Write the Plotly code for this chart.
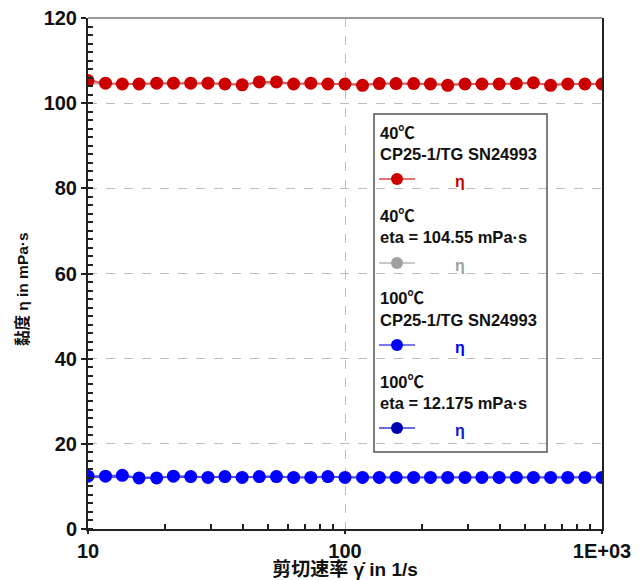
import plotly.graph_objects as go

# ---------------- data ----------------
shear_rate = [10, 11.7, 13.6, 15.8, 18.5, 21.5, 25.1, 29.3, 34.1, 39.8, 46.4, 54.1, 63.1, 73.6, 85.8,
              100, 117, 136, 158, 185, 215, 251, 293, 341, 398, 464, 541, 631, 736, 858, 1000]
eta_40 = [105.3, 104.7, 104.5, 104.5, 104.7, 104.7, 104.7, 104.7, 104.5, 104.3, 105.0, 105.0, 104.5, 104.7, 104.5,
          104.5, 104.2, 104.6, 104.6, 104.6, 104.5, 104.2, 104.5, 104.5, 104.5, 104.6, 104.8, 104.2, 104.5, 104.5, 104.5]
eta_100 = [12.4, 12.4, 12.6, 12.0, 12.0, 12.4, 12.3, 12.1, 12.3, 12.1, 12.3, 12.3, 12.1, 12.1, 12.3,
           12.1, 12.1, 12.1, 12.1, 12.1, 12.1, 12.1, 12.1, 12.1, 12.1, 12.1, 12.1, 12.1, 12.1, 12.1, 12.1]
fit_40 = 104.55
fit_100 = 12.175

x_tickvals = [10, 100, 1000]
x_ticktext = ["10", "100", "1E+03"]
x_minor = [20, 30, 40, 50, 60, 70, 80, 90, 200, 300, 400, 500, 600, 700, 800, 900]

legend_titles = [("40℃", "CP25-1/TG SN24993"), ("40℃", "eta = 104.55 mPa·s"),
                 ("100℃", "CP25-1/TG SN24993"), ("100℃", "eta = 12.175 mPa·s")]
legend_marker_colors = ["#CC0000", "#A0A0A0", "#0000FF", "#0000B0"]
legend_line_colors = ["#E87070", "#C8C8C8", "#7878FF", "#6A6AE0"]
legend_eta_colors = ["#CC0000", "#A0A0A0", "#0000FF", "#1515D0"]

FONT = "Liberation Sans, Arial, Noto Sans CJK SC, sans-serif"

fig = go.Figure()

# fitted constant lines (under data)
fig.add_trace(go.Scatter(x=shear_rate, y=[fit_40] * len(shear_rate), mode="lines",
                         line=dict(color="#B0B0B0", width=1.5), showlegend=False, hoverinfo="skip"))
fig.add_trace(go.Scatter(x=shear_rate, y=eta_40, mode="lines+markers",
                         line=dict(color="#E05555", width=2),
                         marker=dict(color="#CC0000", size=13), showlegend=False))
fig.add_trace(go.Scatter(x=shear_rate, y=[fit_100] * len(shear_rate), mode="lines",
                         line=dict(color="#5050E0", width=1.5), showlegend=False, hoverinfo="skip"))
fig.add_trace(go.Scatter(x=shear_rate, y=eta_100, mode="lines+markers",
                         line=dict(color="#4848FF", width=2),
                         marker=dict(color="#0000FF", size=13), showlegend=False))

# ---------------- custom legend (pixel-coordinate overlay axes) ----------------
title_y1 = [133, 216, 298, 382]
title_y2 = [154, 237, 320, 403]
sym_y = [179, 263, 345, 428]
for i in range(4):
    fig.add_trace(go.Scatter(x=[379, 415], y=[sym_y[i], sym_y[i]], mode="lines",
                             line=dict(color=legend_line_colors[i], width=2),
                             xaxis="x2", yaxis="y2", cliponaxis=False, showlegend=False, hoverinfo="skip"))
    fig.add_trace(go.Scatter(x=[397], y=[sym_y[i]], mode="markers",
                             marker=dict(color=legend_marker_colors[i], size=12),
                             xaxis="x2", yaxis="y2", cliponaxis=False, showlegend=False, hoverinfo="skip"))
    fig.add_annotation(x=378, y=title_y1[i], xref="x2", yref="y2", text="<b>%s</b>" % legend_titles[i][0],
                       showarrow=False, xanchor="left", yanchor="middle",
                       font=dict(family=FONT, size=16.5, color="#111"))
    fig.add_annotation(x=378, y=title_y2[i], xref="x2", yref="y2", text="<b>%s</b>" % legend_titles[i][1],
                       showarrow=False, xanchor="left", yanchor="middle",
                       font=dict(family=FONT, size=16.5, color="#111"))
    fig.add_annotation(x=460, y=sym_y[i] + 2, xref="x2", yref="y2", text="<b>η</b>",
                       showarrow=False, xanchor="center", yanchor="middle",
                       font=dict(family=FONT, size=16, color=legend_eta_colors[i]))

fig.add_shape(type="rect", xref="x2", yref="y2", x0=374, x1=547, y0=114, y1=452,
              line=dict(color="#555555", width=1.5), fillcolor="rgba(0,0,0,0)", layer="above")
# top frame line
fig.add_shape(type="line", xref="paper", yref="paper", x0=0, x1=1, y0=1, y1=1,
              line=dict(color="#9A9A9A", width=2), layer="above")

# y-axis title (rotated text, slightly below centre like the reference)
fig.add_annotation(x=-0.128, y=0.47, xref="paper", yref="paper", text="<b>黏度 η in mPa·s</b>",
                   textangle=-90, showarrow=False, xanchor="center", yanchor="middle",
                   font=dict(family=FONT, size=15.5, color="#111"))

# page body has an 8px default margin, so the figure is sized/offset to compensate
fig.update_layout(
    width=631, height=572,
    margin=dict(l=80, r=37, t=10, b=51, autoexpand=False),
    paper_bgcolor="white", plot_bgcolor="white",
    font=dict(family=FONT, size=20, color="#111"),
    xaxis=dict(type="log", range=[1, 3], tickvals=x_tickvals, ticktext=x_ticktext, automargin=False,
               tickfont=dict(family=FONT, size=20, color="#111", weight="bold"),
               ticklabeloverflow="allow",
               showgrid=True, gridcolor="#BDBDBD", griddash="dash", gridwidth=1,
               showline=True, linecolor="#222", linewidth=2,
               ticks="outside", ticklen=3, tickwidth=2, tickcolor="#222",
               minor=dict(tickvals=x_minor, ticks="inside", ticklen=5, tickwidth=1.5,
                          tickcolor="#222", showgrid=False),
               zeroline=False,
               title=dict(text="<b>剪切速率 γ̇ in 1/s</b>", font=dict(family=FONT, size=19, color="#111"),
                          standoff=3)),
    yaxis=dict(range=[0, 120], dtick=20, automargin=False,
               tickfont=dict(family=FONT, size=20, color="#111", weight="bold"),
               ticklabeloverflow="allow",
               showgrid=True, gridcolor="#BDBDBD", griddash="dash", gridwidth=1,
               showline=True, linecolor="#222", linewidth=2, mirror=True,
               ticks="outside", ticklen=5, tickwidth=2, tickcolor="#222",
               minor=dict(dtick=2, ticks="inside", ticklen=5, tickwidth=1.5,
                          tickcolor="#222", showgrid=False),
               zeroline=False),
    xaxis2=dict(overlaying="x", range=[88, 602], visible=False, anchor="y2"),
    yaxis2=dict(overlaying="y", range=[529, 18], visible=False, anchor="x2"),
    showlegend=False,
)

fig.write_html("out.html")
